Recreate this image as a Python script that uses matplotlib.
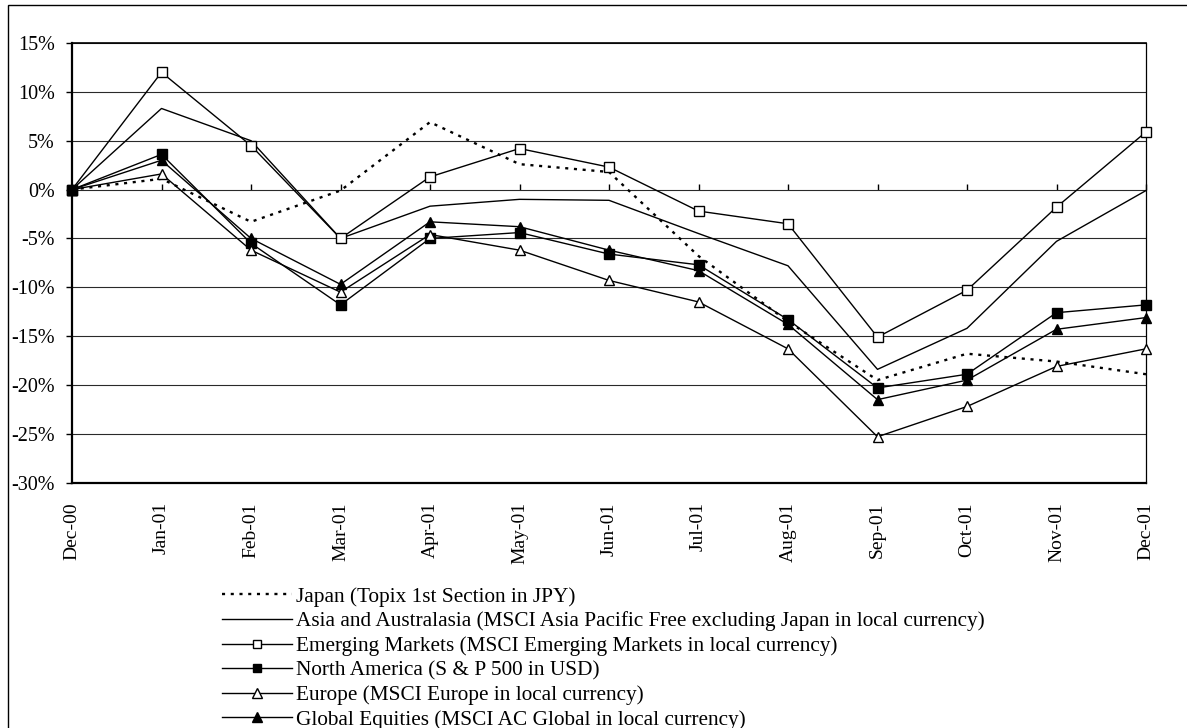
import matplotlib
matplotlib.use("Agg")
import matplotlib.pyplot as plt
from matplotlib.patches import Rectangle
from matplotlib.ticker import FuncFormatter, FixedLocator
import numpy as np

plt.rcParams['font.family'] = ['Liberation Serif', 'DejaVu Serif']

months = ["Dec-00", "Jan-01", "Feb-01", "Mar-01", "Apr-01", "May-01", "Jun-01",
          "Jul-01", "Aug-01", "Sep-01", "Oct-01", "Nov-01", "Dec-01"]

japan = [0.0, 1.1, -3.3, -0.1, 6.9, 2.6, 1.8, -6.8, -13.5, -19.5, -16.8, -17.6, -18.9]
asia = [0.0, 8.3, 5.0, -5.0, -1.7, -1.0, -1.1, -4.5, -7.8, -18.4, -14.2, -5.3, -0.1]
emerging = [0.0, 12.0, 4.5, -5.0, 1.3, 4.2, 2.3, -2.2, -3.5, -15.1, -10.3, -1.8, 5.9]
north_america = [0.0, 3.6, -5.5, -11.8, -5.0, -4.4, -6.6, -7.7, -13.3, -20.3, -18.9, -12.6, -11.8]
europe = [0.0, 1.6, -6.2, -10.5, -4.6, -6.2, -9.3, -11.5, -16.3, -25.3, -22.2, -18.1, -16.3]
global_eq = [0.0, 3.0, -5.0, -9.7, -3.3, -3.8, -6.2, -8.3, -13.8, -21.5, -19.5, -14.3, -13.1]

labels = [
    "Japan (Topix 1st Section in JPY)",
    "Asia and Australasia (MSCI Asia Pacific Free excluding Japan in local currency)",
    "Emerging Markets (MSCI Emerging Markets in local currency)",
    "North America (S & P 500 in USD)",
    "Europe (MSCI Europe in local currency)",
    "Global Equities (MSCI AC Global in local currency)",
]

W, H = 1187, 728
fig = plt.figure(figsize=(W / 100, H / 100), dpi=100)
fig.patch.set_facecolor("white")

# outer chart-area frame (open on the right and bottom)
fig.patches.append(Rectangle((8 / W, -0.2), 1.2, 1.2 - 5 / H, transform=fig.transFigure,
                             fill=False, lw=1.0, ec="black", zorder=0))

left, right = 72 / W, 1146 / W
top, bottom = 1 - 43 / H, 1 - 482.7 / H
ax = fig.add_axes([left, bottom, right - left, top - bottom])

x = np.arange(len(months))
lw = 1.0
ms = 6.5

ax.plot(x, japan, color="black", lw=1.7, linestyle=(0, (1.3, 2.4)),
        label=labels[0], clip_on=False, zorder=3)
ax.plot(x, asia, color="black", lw=lw, label=labels[1], clip_on=False, zorder=3)
ax.plot(x, emerging, color="black", lw=lw, marker="s", ms=ms, mfc="white",
        mec="black", mew=1.0, label=labels[2], clip_on=False, zorder=4)
ax.plot(x, north_america, color="black", lw=lw, marker="s", ms=ms, mfc="black",
        mec="black", label=labels[3], clip_on=False, zorder=4)
ax.plot(x, europe, color="black", lw=lw, marker="^", ms=ms + 0.5, mfc="white",
        mec="black", mew=1.0, label=labels[4], clip_on=False, zorder=4)
ax.plot(x, global_eq, color="black", lw=lw, marker="^", ms=ms + 0.5, mfc="black",
        mec="black", label=labels[5], clip_on=False, zorder=4)

ymin, ymax = -30, 15
ax.set_xlim(0, len(months) - 1)
ax.set_ylim(ymin, ymax)

ax.yaxis.set_major_locator(FixedLocator(np.arange(ymin, ymax + 1, 5)))
ax.yaxis.set_major_formatter(FuncFormatter(lambda v, p: f"{int(round(v))}%"))
ax.grid(axis="y", color="#2a2a2a", lw=0.8, zorder=1)
ax.grid(axis="x", visible=False)
ax.set_axisbelow(True)

ax.tick_params(axis="y", direction="out", length=4.5, width=1.0, pad=8,
               labelsize=14.5)
ax.set_xticks(x)
ax.set_xticklabels(months, rotation=90, fontsize=14)
ax.tick_params(axis="x", length=0, pad=14)

for side in ("left", "bottom"):
    ax.spines[side].set_linewidth(1.6)
ax.spines["top"].set_linewidth(1.2)
ax.spines["right"].set_linewidth(0.9)

# category tick marks along the zero line
zero_frac = (0 - ymin) / (ymax - ymin)
sec = ax.secondary_xaxis(zero_frac)
sec.set_xticks(x)
sec.set_xticklabels([])
sec.tick_params(axis="x", direction="out", length=4, width=1.0)
sec.spines["bottom"].set_visible(False)
sec.spines["top"].set_visible(False)

handles, labs = ax.get_legend_handles_labels()
leg = fig.legend(handles, labs, loc="upper left",
                 bbox_to_anchor=(222 / W, 1 - 587 / H),
                 frameon=False, fontsize=15.3, handlelength=3.3,
                 handletextpad=0.2, labelspacing=0.22, borderpad=0,
                 borderaxespad=0, markerscale=0.95)

fig.savefig("out.png", dpi=100, facecolor="white")
